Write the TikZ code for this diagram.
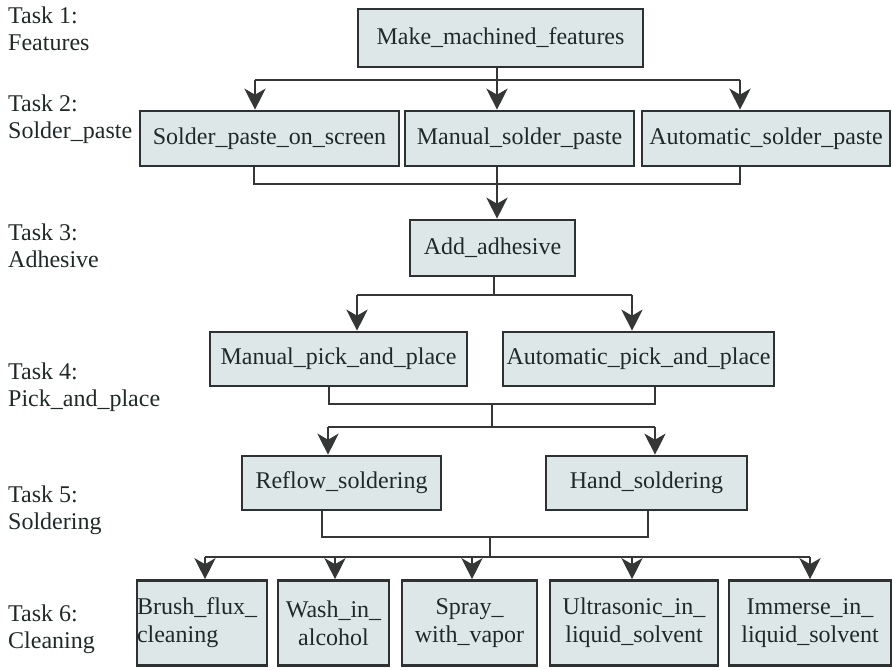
\documentclass[tikz,border=0pt]{standalone}
\usepackage{fontspec}
\setmainfont{Liberation Serif}
\usetikzlibrary{arrows.meta,calc}
\definecolor{boxfill}{HTML}{DDE7E8}
\definecolor{boxline}{HTML}{2E3133}
\definecolor{txt}{HTML}{1F2A28}
\definecolor{conn}{HTML}{353737}
\tikzset{
  box/.style={draw=boxline, fill=boxfill, line width=2.6pt, text=txt, inner sep=0pt,
    font=\fontsize{24}{28}\selectfont, align=center, anchor=center},
  lab/.style={text=txt, inner sep=0pt, anchor=north west, align=left,
    font=\fontsize{24}{27}\selectfont},
  line/.style={draw=conn, line width=2.8pt},
  arr/.style={line, -{Stealth[length=21pt, width=21pt, inset=6pt]}},
}
\begin{document}
\begin{tikzpicture}[x=1pt,y=-1pt]
\useasboundingbox (0,0) rectangle (893,669);
% left labels
\node[lab] (t1) at (8,7) {Task 1:\\Features};
\node[lab] (t2) at (8,95) {Task 2:\\Solder\_paste};
\node[lab] (t3) at (8,224) {Task 3:\\Adhesive};
\node[lab] (t4) at (8,363) {Task 4:\\Pick\_and\_place};
\node[lab] (t5) at (8,486) {Task 5:\\Soldering};
\node[lab] (t6) at (8,605) {Task 6:\\Cleaning};
% boxes
\node[box, minimum width=285, minimum height=58] (mmf) at (500.5,38) {Make\_machined\_features};
\node[box, minimum width=259, minimum height=55] (sps) at (269.5,138.5) {Solder\_paste\_on\_screen};
\node[box, minimum width=229, minimum height=55] (msp) at (519.5,138.5) {Manual\_solder\_paste};
\node[box, minimum width=248, minimum height=55] (asp) at (766,138.5) {Automatic\_solder\_paste};
\node[box, minimum width=165, minimum height=56] (add) at (492.5,248) {Add\_adhesive};
\node[box, minimum width=257, minimum height=54] (mpp) at (338.5,359) {Manual\_pick\_and\_place};
\node[box, minimum width=271, minimum height=54] (app) at (638.5,359) {Automatic\_pick\_and\_place};
\node[box, minimum width=199, minimum height=54] (rs) at (341.5,483) {Reflow\_soldering};
\node[box, minimum width=201, minimum height=54] (hs) at (646.5,483) {Hand\_soldering};
\node[box, text width=130, minimum height=85, align=left] (bf) at (202,623) {Brush\_flux\_\\cleaning};
\node[box, minimum width=111, minimum height=85] (wa) at (333.5,623) {Wash\_in\_\\alcohol};
\node[box, minimum width=135, minimum height=85] (sv) at (469.5,623) {Spray\_\\with\_vapor};
\node[box, minimum width=168, minimum height=85] (ul) at (634,623) {Ultrasonic\_in\_\\liquid\_solvent};
\node[box, minimum width=162, minimum height=85] (im) at (810,623) {Immerse\_in\_\\liquid\_solvent};
% level 1 -> 2
\coordinate (a1) at (497,80);
\coordinate (a1l) at (255,80);
\coordinate (a1r) at (740,80);
\draw[line] (a1l) -- (a1r);
\draw[arr] (mmf.south -| a1) -- (msp.north -| a1);
\draw[arr] (a1l) -- (sps.north -| a1l);
\draw[arr] (a1r) -- (asp.north -| a1r);
% level 2 -> 3
\coordinate (b1l) at (254,184);
\coordinate (b1r) at (740,184);
\coordinate (b1) at (497,184);
\draw[line] (sps.south -| b1l) -- (b1l) -- (b1r) -- (asp.south -| b1r);
\draw[arr] (msp.south -| b1) -- (add.north -| b1);
% level 3 -> 4
\coordinate (c1) at (494,295);
\coordinate (c1l) at (357,295);
\coordinate (c1r) at (632,295);
\draw[line] (add.south -| c1) -- (c1);
\draw[line] (c1l) -- (c1r);
\draw[arr] (c1l) -- (mpp.north -| c1l);
\draw[arr] (c1r) -- (app.north -| c1r);
% level 4 -> 5
\coordinate (d1l) at (329,404);
\coordinate (d1r) at (655,404);
\coordinate (d1) at (492,404);
\coordinate (d2) at (492,427);
\coordinate (d2l) at (328,427);
\coordinate (d2r) at (655,427);
\draw[line] (mpp.south -| d1l) -- (d1l) -- (d1r) -- (app.south -| d1r);
\draw[line] (d1) -- (d2);
\draw[line] (d2l) -- (d2r);
\draw[arr] (d2l) -- (rs.north -| d2l);
\draw[arr] (d2r) -- (hs.north -| d2r);
% level 5 -> 6
\coordinate (e1l) at (322,537);
\coordinate (e1r) at (648,537);
\coordinate (e1) at (490,537);
\coordinate (e2) at (490,557);
\coordinate (e2l) at (205,557);
\coordinate (e2r) at (810,557);
\coordinate (e2b) at (335,557);
\coordinate (e2c) at (472,557);
\coordinate (e2d) at (632,557);
\draw[line] (rs.south -| e1l) -- (e1l) -- (e1r) -- (hs.south -| e1r);
\draw[line] (e1) -- (e2);
\draw[line] (e2l) -- (e2r);
\draw[arr] (e2l) -- (bf.north -| e2l);
\draw[arr] (e2b) -- (wa.north -| e2b);
\draw[arr] (e2c) -- (sv.north -| e2c);
\draw[arr] (e2d) -- (ul.north -| e2d);
\draw[arr] (e2r) -- (im.north -| e2r);
\end{tikzpicture}
\end{document}
